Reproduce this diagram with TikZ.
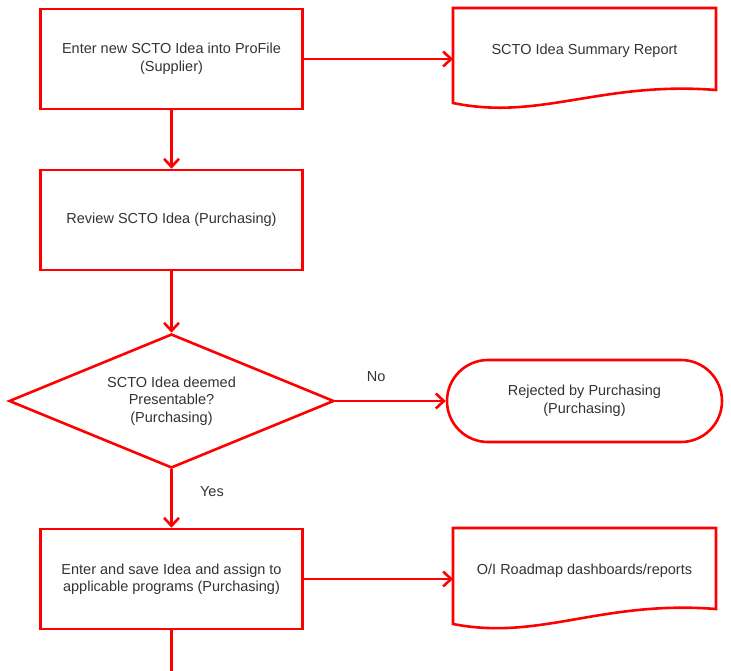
\documentclass[tikz,border=0pt]{standalone}
\usepackage{fontspec}
\setmainfont{Liberation Sans}
\usetikzlibrary{shapes.geometric,arrows.meta,calc}

\begin{document}
\begin{tikzpicture}[x=1pt,y=-1pt,
  every node/.style={font=\fontsize{14.5}{17.5}\selectfont,text=black!80,align=center},
  proc/.style={draw=red,line width=2.6pt,minimum width=262pt,minimum height=100pt,inner sep=0pt},
  dec/.style={draw=red,line width=2.6pt,shape=diamond,aspect=2.43,minimum width=325pt,minimum height=134pt,inner sep=0pt},
  term/.style={draw=red,line width=2.6pt,rounded corners=41pt,minimum width=275pt,minimum height=82pt,inner sep=0pt},
  rep/.style={minimum width=263pt,minimum height=86pt,inner sep=0pt,outer sep=0pt},
  flow/.style={draw=red,line width=2.6pt,-{Straight Barb[length=8pt,width=15pt]}},
  line/.style={draw=red,line width=2.6pt}]
\useasboundingbox (0,0) rectangle (731,671);

\draw 	(171.5,59) node[proc](p1){Enter new SCTO Idea into ProFile\\(Supplier)}
		(171.5,220) node[proc](p2){Review SCTO Idea (Purchasing)}
		(171.5,401) node[dec](q1){SCTO Idea deemed\\Presentable?\\(Purchasing)}
		(171.5,579) node[proc](p3){Enter and save Idea and assign to\\applicable programs (Purchasing)};
\draw 	(584.5,51) node[rep](r1){SCTO Idea Summary Report}
		(584.5,571) node[rep](r2){O/I Roadmap dashboards/reports}
		(584.5,401) node[term](t1){Rejected by Purchasing\\(Purchasing)};
\coordinate (e1) at (171.5,675);

\draw[line] (r1.north west) -- (r1.north east) -- ($(r1.north east)+(0,82)$)
	.. controls ($(r1.north east)+(-115,73)$) and ($(r1.north west)+(87,113)$) .. ($(r1.north west)+(0,95)$) -- cycle;
\draw[line] (r2.north west) -- (r2.north east) -- ($(r2.north east)+(0,81)$)
	.. controls ($(r2.north east)+(-115,72)$) and ($(r2.north west)+(87,113)$) .. ($(r2.north west)+(0,96)$) -- cycle;

\draw[flow] (p1) -- (p2);
\draw[flow] (p2) -- (q1);
\draw[flow] (q1) -- node[pos=0.39,right=24pt] {Yes} (p3);
\draw[flow] (q1) -- node[pos=0.37,above=15pt] {No} (t1);
\draw[flow] (p1.east) -- (p1.east -| r1.west);
\draw[flow] (p3.east) -- (p3.east -| r2.west);
\draw[line] (p3) -- (e1);
\end{tikzpicture}
\end{document}
